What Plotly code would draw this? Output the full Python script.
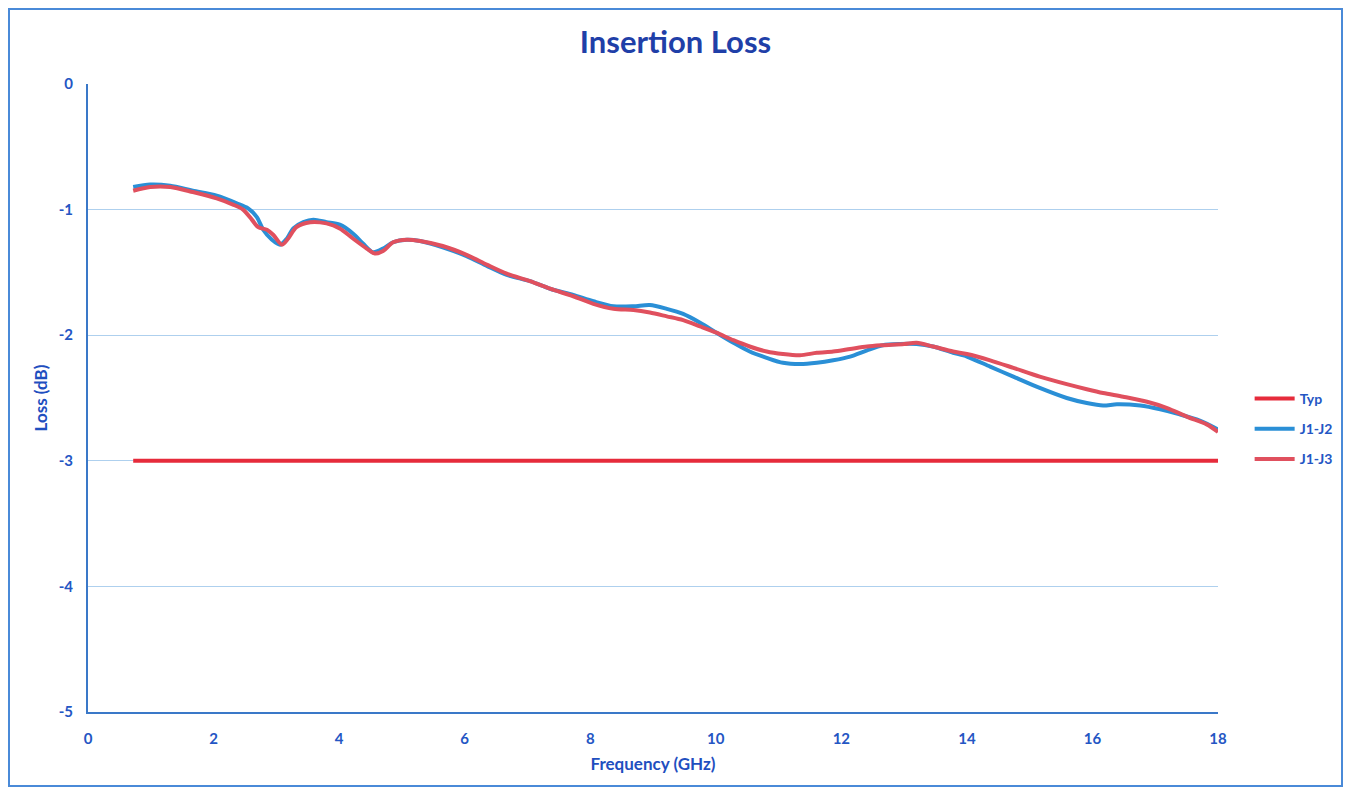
import plotly.graph_objects as go

# ---- data ----
j12_x = [0.72, 0.99, 1.31, 1.67, 2.05, 2.37, 2.55, 2.69, 2.79, 2.93, 3.06, 3.17, 3.27, 3.43, 3.59, 3.8,
         4.01, 4.22, 4.38, 4.54, 4.70, 4.86, 5.08, 5.29, 5.65, 6.03, 6.36, 6.67, 7.04, 7.36, 7.73, 8.05,
         8.37, 8.69, 8.95, 9.22, 9.48, 9.75, 10.01, 10.28, 10.54, 10.81, 11.07, 11.34, 11.61, 11.87,
         12.14, 12.41, 12.66, 12.93, 13.2, 13.46, 13.78, 14.0, 14.37, 14.74, 15.16, 15.59, 15.91, 16.17,
         16.39, 16.76, 17.08, 17.39, 17.71, 18.0]
j12_y = [-0.82, -0.80, -0.81, -0.85, -0.89, -0.95, -0.99, -1.06, -1.16, -1.24, -1.28, -1.23, -1.15,
         -1.10, -1.08, -1.10, -1.12, -1.19, -1.27, -1.34, -1.31, -1.26, -1.24, -1.25, -1.30, -1.37,
         -1.45, -1.52, -1.57, -1.63, -1.68, -1.73, -1.77, -1.77, -1.76, -1.79, -1.83, -1.90, -1.98,
         -2.06, -2.13, -2.18, -2.22, -2.23, -2.22, -2.20, -2.17, -2.12, -2.08, -2.07, -2.07, -2.09,
         -2.14, -2.17, -2.25, -2.33, -2.42, -2.50, -2.54, -2.56, -2.55, -2.56, -2.59, -2.63, -2.68, -2.75]

j13_x = [0.72, 0.99, 1.31, 1.67, 2.05, 2.31, 2.47, 2.61, 2.71, 2.85, 2.95, 3.09, 3.19, 3.32, 3.54, 3.8,
         4.01, 4.22, 4.44, 4.57, 4.70, 4.86, 5.08, 5.29, 5.65, 6.03, 6.36, 6.67, 7.04, 7.36, 7.73, 8.05,
         8.37, 8.69, 8.95, 9.22, 9.48, 9.75, 10.01, 10.28, 10.54, 10.81, 11.07, 11.34, 11.61, 11.87,
         12.14, 12.41, 12.66, 13.0, 13.2, 13.46, 13.78, 14.0, 14.37, 14.74, 15.16, 15.59, 15.91, 16.17,
         16.49, 16.87, 17.19, 17.51, 17.82, 18.0]
j13_y = [-0.85, -0.82, -0.82, -0.86, -0.91, -0.96, -1.00, -1.08, -1.14, -1.16, -1.20, -1.28, -1.23,
         -1.14, -1.10, -1.11, -1.15, -1.23, -1.31, -1.35, -1.33, -1.26, -1.24, -1.25, -1.29, -1.36,
         -1.44, -1.51, -1.57, -1.63, -1.69, -1.75, -1.79, -1.80, -1.82, -1.85, -1.88, -1.93, -1.98,
         -2.04, -2.09, -2.13, -2.15, -2.16, -2.14, -2.13, -2.11, -2.09, -2.08, -2.07, -2.06, -2.09,
         -2.13, -2.15, -2.20, -2.26, -2.33, -2.39, -2.43, -2.46, -2.49, -2.53, -2.58, -2.65, -2.71, -2.77]

typ_x = [0.72, 18.0]
typ_y = [-3.0, -3.0]

x_ticks = [0, 2, 4, 6, 8, 10, 12, 14, 16, 18]
y_ticks = [0, -1, -2, -3, -4, -5]
y_tick_text = ["0", "-1", "-2", "-3", "-4", "-5"]

FONT = "Lato"
TXT = "#2456c4"

# figure sits at an 8px body offset in the page
W, H = 1335, 779
L, R, T, B = 80, 125, 76, 75
PW, PH = W - L - R, H - T - B

fig = go.Figure()
fig.add_trace(go.Scatter(x=typ_x, y=typ_y, name="Typ", mode="lines", legendgroup="a",
                         line=dict(color="#e62b3b", width=4)))
fig.add_trace(go.Scatter(x=j12_x, y=j12_y, name="J1-J2", mode="lines", legendgroup="b",
                         line=dict(color="#2a8fd6", width=4, shape="spline", smoothing=0.8)))
fig.add_trace(go.Scatter(x=j13_x, y=j13_y, name="J1-J3", mode="lines", legendgroup="c",
                         line=dict(color="#e0505e", width=4, shape="spline", smoothing=0.8)))

fig.update_layout(
    width=W, height=H,
    margin=dict(l=L, r=R, t=T, b=B, autoexpand=False),
    paper_bgcolor="white", plot_bgcolor="white",
    title=dict(text="Insertion Loss", x=0.5, xref="container", y=1 - 34 / H, yref="container",
               xanchor="center", yanchor="middle",
               font=dict(family=FONT, size=31, color="#1f3fa8", weight="bold")),
    font=dict(family=FONT, color=TXT),
    legend=dict(x=1.028, xanchor="left", y=(PH - (429 - 84)) / PH, yanchor="middle",
                font=dict(family=FONT, size=14, color=TXT, weight="bold"),
                tracegroupgap=9, itemwidth=40, bgcolor="rgba(0,0,0,0)"),
    showlegend=True,
)

fig.update_xaxes(range=[0, 18], tickvals=x_ticks, showgrid=False, zeroline=False,
                 showline=True, linecolor="#3a78c8", linewidth=2,
                 ticks="outside", ticklen=12, tickcolor="rgba(0,0,0,0)",
                 tickfont=dict(family=FONT, size=15, color=TXT, weight="bold"),
                 title=dict(text="Frequency (GHz)", standoff=12,
                            font=dict(family=FONT, size=17, color="#1f4fbf", weight="bold")))
fig.update_yaxes(range=[-5, 0], tickvals=y_ticks, ticktext=y_tick_text, showgrid=True,
                 gridcolor="#aed0ee", gridwidth=1,
                 zeroline=False, showline=True, linecolor="#3a78c8", linewidth=2,
                 ticks="outside", ticklen=10, tickcolor="rgba(0,0,0,0)",
                 tickfont=dict(family=FONT, size=15, color=TXT, weight="bold"),
                 title=dict(text="Loss (dB)", standoff=7,
                            font=dict(family=FONT, size=17, color="#1f4fbf", weight="bold")))

# outer frame of the chart area
fig.add_shape(type="rect", xref="paper", yref="paper",
              x0=(1 - L) / PW, x1=(W - 1 - L) / PW,
              y0=(T + PH - (H - 1)) / PH, y1=(T + PH - 1) / PH,
              line=dict(color="#4a8ad8", width=2), fillcolor="rgba(0,0,0,0)", layer="below")

fig.write_html("out.html")
